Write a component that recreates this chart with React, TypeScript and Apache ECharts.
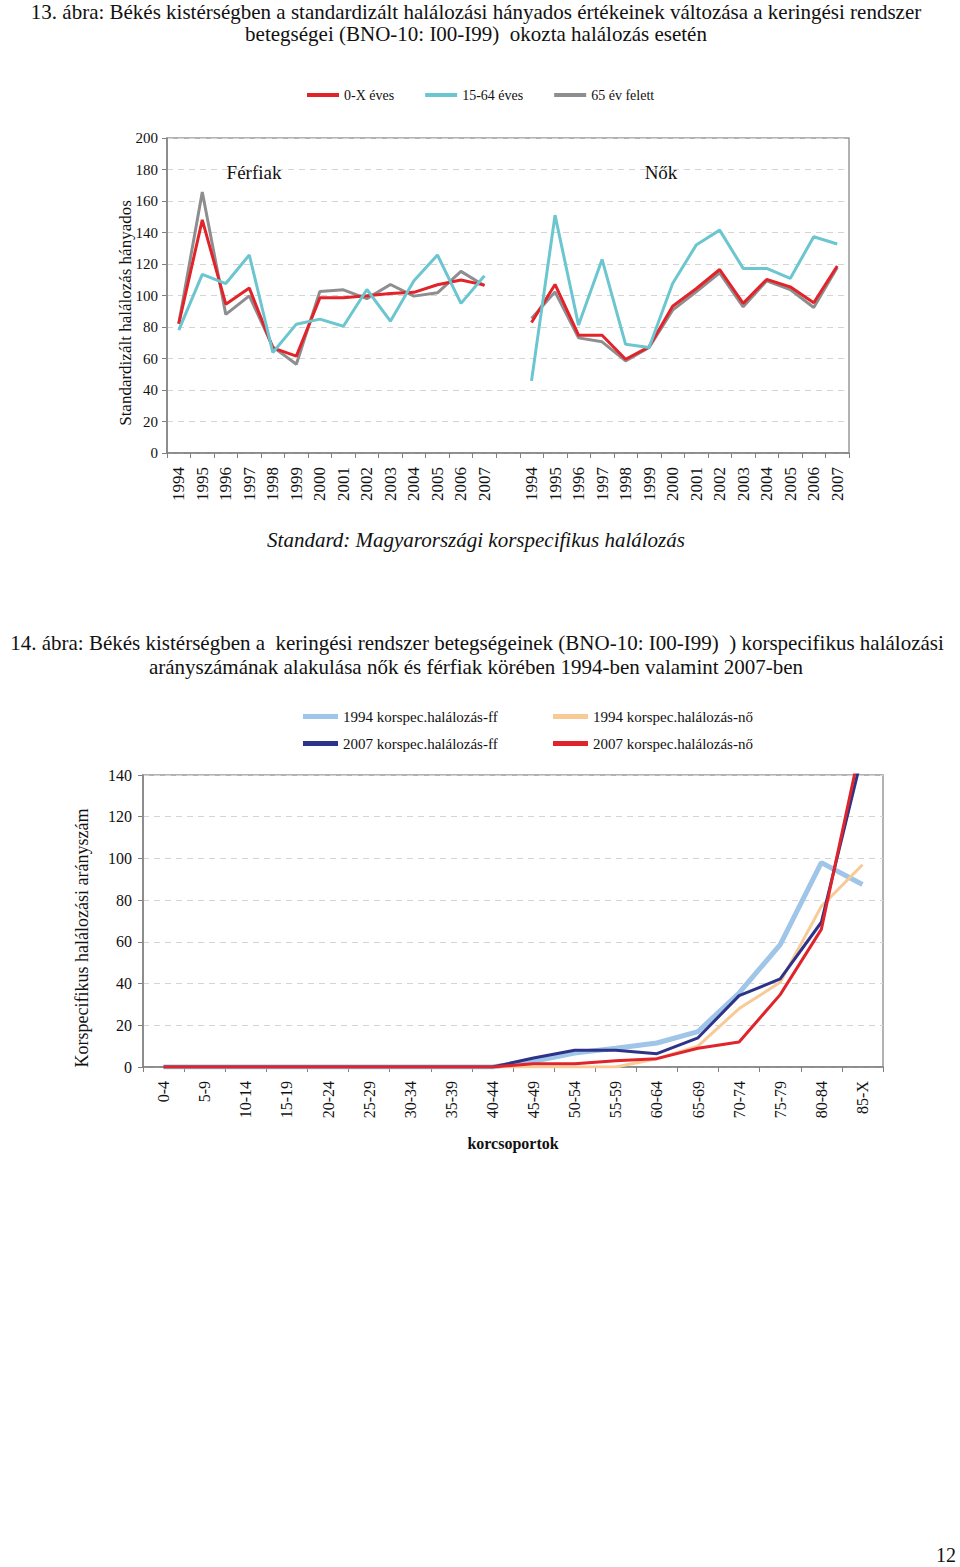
import React, { useEffect, useRef } from "react";
import * as echarts from "echarts";

const years = ["1994","1995","1996","1997","1998","1999","2000","2001","2002","2003","2004","2005","2006","2007"];
const topCategories = [...years, "", ...years];

// Férfiak
const ferfi0X = [82, 148, 94.5, 104.7, 66.7, 61.5, 98.5, 98.5, 99.8, 101.3, 102, 106.8, 109.8, 106.6];
const ferfi1564 = [78, 113.4, 107.6, 125.7, 63.8, 81.8, 85, 80.5, 103.8, 83.7, 109.3, 125.7, 95, 112.5];
const ferfi65 = [82.2, 165.7, 88, 99.8, 67.4, 56.4, 102.6, 103.6, 98, 107, 99.6, 101.7, 115.3, 106.2];
// Nők
const no0X = [82.9, 107, 74.8, 74.8, 59.5, 67.4, 93.2, 104.3, 116.5, 95, 110.2, 105.5, 95.4, 118.7];
const no1564 = [45.8, 151, 81.2, 122.9, 69, 67, 107.6, 132, 141.5, 117.2, 117.2, 110.8, 137.3, 132.7];
const no65 = [85.4, 102.3, 73.1, 70.6, 58.5, 67, 90.7, 102.3, 114.4, 92.8, 109.3, 103.8, 92.4, 117.8];

const topYTicks = { min: 0, max: 200, interval: 20 };

const ageGroups = ["0-4","5-9","10-14","15-19","20-24","25-29","30-34","35-39","40-44","45-49","50-54","55-59","60-64","65-69","70-74","75-79","80-84","85-X"];
const ff1994 = [0, 0, 0, 0, 0, 0, 0, 0, 0, 2.7, 6.7, 9, 11.5, 17, 35.5, 58.7, 98, 87.5];
const no1994 = [0, 0, 0, 0, 0, 0, 0, 0, 0, 0, 0, 0, 4, 10, 28, 40.6, 77, 97];
const ff2007 = [0, 0, 0, 0, 0, 0, 0, 0, 0, 4.3, 8, 8, 6.4, 14, 34.2, 42.2, 69.4, 150];
const no2007 = [0, 0, 0, 0, 0, 0, 0, 0, 0, 1.6, 1.6, 3, 4, 9, 12, 34.7, 66, 158];

const bottomYTicks = { min: 0, max: 140, interval: 20 };

const SERIF = "'Liberation Serif', 'Times New Roman', serif";

const C_RED = "#e2232a";
const C_CYAN = "#6cc6d0";
const C_GRAY = "#8e8e90";
const C_LBLUE = "#9fc5e8";
const C_NAVY = "#2c3388";
const C_ORANGE = "#f8ca96";
const C_RED2 = "#e0242b";

function txt(text: string, x: number, y: number, size: number, opts: any = {}) {
  return {
    type: "text",
    x,
    y,
    rotation: opts.rotation || 0,
    silent: true,
    style: {
      text,
      fill: "#111",
      fontFamily: SERIF,
      fontSize: size,
      fontStyle: opts.italic ? "italic" : "normal",
      fontWeight: opts.bold ? "bold" : "normal",
      textAlign: opts.align || "center",
      textVerticalAlign: "middle",
    },
  };
}

export default function App() {
  const ref = useRef<HTMLDivElement>(null);
  useEffect(() => {
    if (!ref.current) return;
    const chart = echarts.init(ref.current, undefined, { renderer: "svg" });
    const axisLineStyle = { color: "#808080", width: 1.5 };
    const splitLineStyle = { color: "#d4d4d4", type: [6, 5] as any, width: 1 };
    const labelStyle = { fontFamily: SERIF, fontSize: 15, color: "#111" };
    const withGap = (a: number[], b: number[]) => [...a, null, ...b];

    const option: any = {
      animation: false,
      backgroundColor: "#fff",
      textStyle: { fontFamily: SERIF },
      graphic: [
        txt("13. ábra: Békés kistérségben a standardizált halálozási hányados értékeinek változása a keringési rendszer", 476, 12, 21),
        txt("betegségei (BNO-10: I00-I99)  okozta halálozás esetén", 476, 34, 21),
        txt("Férfiak", 254, 172, 19),
        txt("Nők", 661, 172, 19),
        txt("Standardizált halálozás hányados", 125, 313, 17, { rotation: Math.PI / 2 }),
        txt("Standard: Magyarországi korspecifikus halálozás", 476, 540, 21, { italic: true }),
        txt("14. ábra: Békés kistérségben a  keringési rendszer betegségeinek (BNO-10: I00-I99)  ) korspecifikus halálozási", 477, 643, 21),
        txt("arányszámának alakulása nők és férfiak körében 1994-ben valamint 2007-ben", 476, 667, 21),
        txt("Korspecifikus halálozási arányszám", 82, 938, 18, { rotation: Math.PI / 2 }),
        txt("korcsoportok", 513, 1143, 16, { bold: true }),
        txt("12", 946, 1555, 20),
      ],
      legend: [
        {
          left: 302,
          top: 83,
          itemWidth: 32,
          itemHeight: 4,
          itemGap: 31,
          icon: "rect",
          textStyle: { fontFamily: SERIF, fontSize: 14, color: "#111" },
          data: ["0-X éves", "15-64 éves", "65 év felett"],
        },
        {
          left: 298,
          top: 704,
          orient: "vertical",
          itemWidth: 35,
          itemHeight: 5,
          itemGap: 12,
          icon: "rect",
          textStyle: { fontFamily: SERIF, fontSize: 15, color: "#111" },
          data: ["1994 korspec.halálozás-ff", "2007 korspec.halálozás-ff"],
        },
        {
          left: 548,
          top: 704,
          orient: "vertical",
          itemWidth: 35,
          itemHeight: 5,
          itemGap: 12,
          icon: "rect",
          textStyle: { fontFamily: SERIF, fontSize: 15, color: "#111" },
          data: ["1994 korspec.halálozás-nő", "2007 korspec.halálozás-nő"],
        },
      ],
      grid: [
        { left: 167, top: 138, width: 682, height: 315, show: true, borderColor: "#999", borderWidth: 1.5, backgroundColor: "transparent" },
        { left: 143, top: 775, width: 740, height: 292, show: true, borderColor: "#999", borderWidth: 1.5, backgroundColor: "transparent" },
      ],
      xAxis: [
        {
          gridIndex: 0,
          type: "category",
          data: topCategories,
          boundaryGap: true,
          axisLine: { lineStyle: axisLineStyle },
          axisTick: { show: true, length: 5, lineStyle: { color: "#808080" }, interval: 0 },
          axisLabel: { ...labelStyle, fontSize: 17, rotate: 90, interval: 0, margin: 14 },
          splitLine: { show: false },
        },
        {
          gridIndex: 1,
          type: "category",
          data: ageGroups,
          boundaryGap: true,
          axisLine: { lineStyle: axisLineStyle },
          axisTick: { show: true, length: 5, lineStyle: { color: "#808080" }, interval: 0 },
          axisLabel: { ...labelStyle, fontSize: 16, rotate: 90, interval: 0, margin: 14 },
          splitLine: { show: false },
        },
      ],
      yAxis: [
        {
          gridIndex: 0,
          type: "value",
          ...topYTicks,
          axisLine: { show: true, lineStyle: axisLineStyle },
          axisTick: { show: true, length: 5, lineStyle: { color: "#808080" } },
          axisLabel: { ...labelStyle, margin: 9 },
          splitLine: { show: true, lineStyle: splitLineStyle },
        },
        {
          gridIndex: 1,
          type: "value",
          ...bottomYTicks,
          axisLine: { show: true, lineStyle: axisLineStyle },
          axisTick: { show: true, length: 5, lineStyle: { color: "#808080" } },
          axisLabel: { ...labelStyle, fontSize: 16, margin: 11 },
          splitLine: { show: true, lineStyle: splitLineStyle },
        },
      ],
      series: [
        { name: "65 év felett", type: "line", xAxisIndex: 0, yAxisIndex: 0, data: withGap(ferfi65, no65), symbol: "none", color: C_GRAY, lineStyle: { width: 3, color: C_GRAY }, z: 2 },
        { name: "15-64 éves", type: "line", xAxisIndex: 0, yAxisIndex: 0, data: withGap(ferfi1564, no1564), symbol: "none", color: C_CYAN, lineStyle: { width: 3, color: C_CYAN }, z: 3 },
        { name: "0-X éves", type: "line", xAxisIndex: 0, yAxisIndex: 0, data: withGap(ferfi0X, no0X), symbol: "none", color: C_RED, lineStyle: { width: 3, color: C_RED }, z: 2 },
        { name: "1994 korspec.halálozás-ff", type: "line", xAxisIndex: 1, yAxisIndex: 1, data: ff1994, symbol: "none", color: C_LBLUE, lineStyle: { width: 5, color: C_LBLUE }, clip: true, z: 2 },
        { name: "1994 korspec.halálozás-nő", type: "line", xAxisIndex: 1, yAxisIndex: 1, data: no1994, symbol: "none", color: C_ORANGE, lineStyle: { width: 3, color: C_ORANGE }, clip: true, z: 2 },
        { name: "2007 korspec.halálozás-ff", type: "line", xAxisIndex: 1, yAxisIndex: 1, data: ff2007, symbol: "none", color: C_NAVY, lineStyle: { width: 3, color: C_NAVY }, clip: true, z: 3 },
        { name: "2007 korspec.halálozás-nő", type: "line", xAxisIndex: 1, yAxisIndex: 1, data: no2007, symbol: "none", color: C_RED2, lineStyle: { width: 3, color: C_RED2 }, clip: true, z: 4 },
      ],
    };
    chart.setOption(option);
    return () => chart.dispose();
  }, []);
  return (
    <div
      ref={ref}
      style={{ position: "absolute", left: 0, top: 0, width: 960, height: 1567, background: "#fff" }}
    />
  );
}
